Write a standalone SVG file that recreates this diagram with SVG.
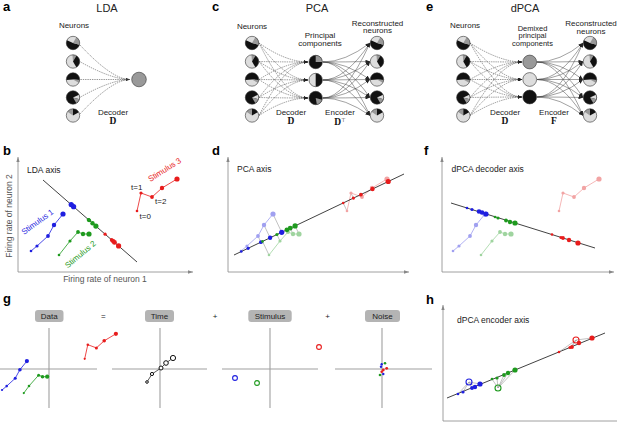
<svg xmlns="http://www.w3.org/2000/svg" xmlns:xlink="http://www.w3.org/1999/xlink" width="617" height="423" viewBox="0 0 617 423">
<style>
text{font-family:"Liberation Sans",Arial,sans-serif;fill:#222}
.lt{font-size:8px}
.mid{text-anchor:middle}
.ttl{font-size:11px;text-anchor:middle}
.pn{font-size:13px;font-weight:bold;fill:#000}
.mat{font-family:"Liberation Serif","Times New Roman",serif;font-weight:bold;font-size:9.5px;text-anchor:middle;fill:#111}
.dec{fill:none;stroke:#444;stroke-width:0.55;stroke-dasharray:1.4 0.9}
.enc{fill:none;stroke:#444;stroke-width:0.5}
.ol{fill:none;stroke:#333;stroke-width:0.6}
.k{fill:#111}.g{fill:#999}.l{fill:#ddd}
.ax{stroke:#888;stroke-width:0.8;fill:none}
.gax{stroke:#a0a0a0;stroke-width:1.1;fill:none}
.axis{stroke:#111;stroke-width:0.8;fill:none}
.sb{stroke:#1f1fe0;fill:none;stroke-width:0.8}.fb{fill:#1f1fe0}
.sg{stroke:#1e9a1e;fill:none;stroke-width:0.8}.fg{fill:#1e9a1e}
.sr{stroke:#e81c1c;fill:none;stroke-width:0.8}.fr{fill:#e81c1c}
.slb{stroke:#a0a0f0;fill:none;stroke-width:0.8}.flb{fill:#a0a0f0}
.slg{stroke:#9fd49f;fill:none;stroke-width:0.8}.flg{fill:#9fd49f}
.slr{stroke:#f2a4a4;fill:none;stroke-width:0.8}.flr{fill:#f2a4a4}
.pr{stroke:#999;stroke-width:0.6;fill:none}
.ob{fill:none;stroke:#1f1fe0;stroke-width:1.1}
.og{fill:none;stroke:#1e9a1e;stroke-width:1.1}
.or{fill:none;stroke:#e81c1c;stroke-width:1.1}
.ok{fill:#fff;stroke:#111;stroke-width:1}
.box{fill:#b4b4b4}
</style>
<defs>
<marker id="ah" viewBox="0 0 5 4" refX="5" refY="2" markerWidth="4.5" markerHeight="3.6" markerUnits="userSpaceOnUse" orient="auto"><path d="M0,0L5,2L0,4z" fill="#222"/></marker>
<marker id="axh" viewBox="0 0 6 4" refX="6" refY="2" markerWidth="5" markerHeight="3.5" markerUnits="userSpaceOnUse" orient="auto"><path d="M0,0L6,2L0,4z" fill="#888"/></marker>
<g id="n1"><circle r="6.7" class="l"/><path class="k" d="M0,0L6.47,1.73A6.7,6.7 0 1 1 -6.07,-2.83Z"/><path class="g" d="M0,0L3.35,-5.8A6.7,6.7 0 0 1 6.47,1.73Z"/><circle r="6.7" class="ol"/></g>
<g id="n2"><circle r="6.7" class="l"/><path class="g" d="M0,0L-0.58,-6.67A6.7,6.7 0 0 1 3.35,-5.8Z"/><path class="k" d="M0,0L3.35,-5.8A6.7,6.7 0 0 1 3.35,5.8Z"/><circle r="6.7" class="ol"/></g>
<g id="n3"><circle r="6.7" class="l"/><path class="k" d="M0,0L-6.67,0.58A6.7,6.7 0 1 1 6.67,0.58Z"/><path class="g" d="M0,0L6.67,0.58A6.7,6.7 0 0 1 5.8,3.35Z"/><circle r="6.7" class="ol"/></g>
<g id="n4"><circle r="6.7" class="k"/><path class="l" d="M0,0L6.07,-2.83A6.7,6.7 0 0 1 6.47,1.73Z"/><path class="g" d="M0,0L6.47,1.73A6.7,6.7 0 0 1 3.35,5.8Z"/><circle r="6.7" class="ol"/></g>
<g id="n5"><circle r="6.7" class="l"/><path class="g" d="M0,0L-5.49,-3.84A6.7,6.7 0 0 1 0,-6.7Z"/><path class="k" d="M0,0L0,-6.7A6.7,6.7 0 0 1 5.8,-3.35Z"/><circle r="6.7" class="ol"/></g>
<g id="pc1"><circle r="6.7" class="k"/><path class="g" d="M0,0L0,-6.7A6.7,6.7 0 0 1 6.7,0Z"/><circle r="6.7" class="ol"/></g>
<g id="pc2"><circle r="6.7" class="l"/><path class="k" d="M0,0L0,-6.7A6.7,6.7 0 0 1 0,6.7Z"/><circle r="6.7" class="ol"/></g>
<g id="pc3"><circle r="6.7" class="k"/><path class="g" d="M0,0L6.47,1.73A6.7,6.7 0 0 1 1.16,6.6Z"/><circle r="6.7" class="ol"/></g>
</defs>

<!-- Panel labels and titles -->
<text class="pn" x="3" y="11">a</text>
<text class="ttl" x="107" y="11.5">LDA</text>
<text class="pn" x="212" y="11">c</text>
<text class="ttl" x="317" y="11.5">PCA</text>
<text class="pn" x="426" y="11">e</text>
<text class="ttl" x="525" y="11.5">dPCA</text>

<!-- Connectors -->
<g id="connectors">
<g id="a-conn">
<path class="dec" marker-end="url(#ah)" d="M80,45Q112,79.5 130,79.5"/>
<path class="dec" d="M80.5,62Q112,79.5 130,79.5"/>
<path class="dec" d="M80.5,79.5L130,79.5"/>
<path class="dec" d="M80.5,97Q112,79.5 130,79.5"/>
<path class="dec" d="M80,114Q112,79.5 130,79.5"/>
</g>
<g id="c-dec">
<path class="dec" marker-end="url(#ah)" d="M259,43Q286,62 308,62"/>
<path class="dec" marker-end="url(#ah)" d="M259,61.5Q286,62 308,62"/>
<path class="dec" marker-end="url(#ah)" d="M259,79.5Q286,62 308,62"/>
<path class="dec" marker-end="url(#ah)" d="M259,97.5Q286,62 308,62"/>
<path class="dec" marker-end="url(#ah)" d="M259,115.5Q286,62 308,62"/>
<path class="dec" marker-end="url(#ah)" d="M259,43Q286,80 308,80"/>
<path class="dec" marker-end="url(#ah)" d="M259,61.5Q286,80 308,80"/>
<path class="dec" marker-end="url(#ah)" d="M259,79.5L308,80"/>
<path class="dec" marker-end="url(#ah)" d="M259,97.5Q286,80 308,80"/>
<path class="dec" marker-end="url(#ah)" d="M259,115.5Q286,80 308,80"/>
<path class="dec" marker-end="url(#ah)" d="M259,43Q286,98 308,98"/>
<path class="dec" marker-end="url(#ah)" d="M259,61.5Q286,98 308,98"/>
<path class="dec" marker-end="url(#ah)" d="M259,79.5Q286,98 308,98"/>
<path class="dec" marker-end="url(#ah)" d="M259,97.5Q286,98 308,98"/>
<path class="dec" marker-end="url(#ah)" d="M259,115.5Q286,98 308,98"/>
</g>
<g id="c-enc">
<path class="enc" marker-end="url(#ah)" d="M323,62Q345,62 370,43"/>
<path class="enc" marker-end="url(#ah)" d="M323,62Q345,62 370,61.5"/>
<path class="enc" marker-end="url(#ah)" d="M323,62Q345,62 370,79.5"/>
<path class="enc" marker-end="url(#ah)" d="M323,62Q345,62 370,97.5"/>
<path class="enc" marker-end="url(#ah)" d="M323,62Q345,62 370,115.5"/>
<path class="enc" marker-end="url(#ah)" d="M323,80Q345,80 370,43"/>
<path class="enc" marker-end="url(#ah)" d="M323,80Q345,80 370,61.5"/>
<path class="enc" marker-end="url(#ah)" d="M323,80L370,79.5"/>
<path class="enc" marker-end="url(#ah)" d="M323,80Q345,80 370,97.5"/>
<path class="enc" marker-end="url(#ah)" d="M323,80Q345,80 370,115.5"/>
<path class="enc" marker-end="url(#ah)" d="M323,98Q345,98 370,43"/>
<path class="enc" marker-end="url(#ah)" d="M323,98Q345,98 370,61.5"/>
<path class="enc" marker-end="url(#ah)" d="M323,98Q345,98 370,79.5"/>
<path class="enc" marker-end="url(#ah)" d="M323,98Q345,98 370,97.5"/>
<path class="enc" marker-end="url(#ah)" d="M323,98Q345,98 370,115.5"/>
</g>
<g id="e-dec">
<path class="dec" marker-end="url(#ah)" d="M470,43Q500,62 522,62"/>
<path class="dec" marker-end="url(#ah)" d="M470,61.5Q500,62 522,62"/>
<path class="dec" marker-end="url(#ah)" d="M470,79.5Q500,62 522,62"/>
<path class="dec" marker-end="url(#ah)" d="M470,97.5Q500,62 522,62"/>
<path class="dec" marker-end="url(#ah)" d="M470,115.5Q500,62 522,62"/>
<path class="dec" marker-end="url(#ah)" d="M470,43Q500,79.5 522,79.5"/>
<path class="dec" marker-end="url(#ah)" d="M470,61.5Q500,79.5 522,79.5"/>
<path class="dec" marker-end="url(#ah)" d="M470,79.5L522,79.5"/>
<path class="dec" marker-end="url(#ah)" d="M470,97.5Q500,79.5 522,79.5"/>
<path class="dec" marker-end="url(#ah)" d="M470,115.5Q500,79.5 522,79.5"/>
<path class="dec" marker-end="url(#ah)" d="M470,43Q500,97 522,97"/>
<path class="dec" marker-end="url(#ah)" d="M470,61.5Q500,97 522,97"/>
<path class="dec" marker-end="url(#ah)" d="M470,79.5Q500,97 522,97"/>
<path class="dec" marker-end="url(#ah)" d="M470,97.5Q500,97 522,97"/>
<path class="dec" marker-end="url(#ah)" d="M470,115.5Q500,97 522,97"/>
</g>
<g id="e-enc">
<path class="enc" marker-end="url(#ah)" d="M537,62Q560,62 583,43"/>
<path class="enc" marker-end="url(#ah)" d="M537,62Q560,62 583,61.5"/>
<path class="enc" marker-end="url(#ah)" d="M537,62Q560,62 583,79.5"/>
<path class="enc" marker-end="url(#ah)" d="M537,62Q560,62 583,97.5"/>
<path class="enc" marker-end="url(#ah)" d="M537,62Q560,62 583,115.5"/>
<path class="enc" marker-end="url(#ah)" d="M537,79.5Q560,79.5 583,43"/>
<path class="enc" marker-end="url(#ah)" d="M537,79.5Q560,79.5 583,61.5"/>
<path class="enc" marker-end="url(#ah)" d="M537,79.5L583,79.5"/>
<path class="enc" marker-end="url(#ah)" d="M537,79.5Q560,79.5 583,97.5"/>
<path class="enc" marker-end="url(#ah)" d="M537,79.5Q560,79.5 583,115.5"/>
<path class="enc" marker-end="url(#ah)" d="M537,97Q560,97 583,43"/>
<path class="enc" marker-end="url(#ah)" d="M537,97Q560,97 583,61.5"/>
<path class="enc" marker-end="url(#ah)" d="M537,97Q560,97 583,79.5"/>
<path class="enc" marker-end="url(#ah)" d="M537,97Q560,97 583,97.5"/>
<path class="enc" marker-end="url(#ah)" d="M537,97Q560,97 583,115.5"/>
</g>
</g>

<!-- Panel a nodes -->
<text class="lt mid" x="74" y="28">Neurons</text>
<g id="a-n1"><use xlink:href="#n1" x="73" y="43"/></g>
<g id="a-n2"><use xlink:href="#n2" x="73" y="61.5"/></g>
<g id="a-n3"><use xlink:href="#n3" x="73" y="79.5"/></g>
<g id="a-n4"><use xlink:href="#n4" x="73" y="97.5"/></g>
<g id="a-n5"><use xlink:href="#n5" x="73" y="115.5"/></g>
<g id="a-out"><circle cx="139" cy="79.5" r="7.3" class="g"/><circle cx="139" cy="79.5" r="7.3" class="ol"/></g>
<text class="lt mid" x="113" y="114.5">Decoder</text>
<text class="mat" x="113" y="124">D</text>

<!-- Panel c nodes -->
<text class="lt mid" x="252" y="28.5">Neurons</text>
<g id="c-n1"><use xlink:href="#n1" x="252" y="43"/></g>
<g id="c-n2"><use xlink:href="#n2" x="252" y="61.5"/></g>
<g id="c-n3"><use xlink:href="#n3" x="252" y="79.5"/></g>
<g id="c-n4"><use xlink:href="#n4" x="252" y="97.5"/></g>
<g id="c-n5"><use xlink:href="#n5" x="252" y="115.5"/></g>
<text class="lt mid" x="320" y="37.5">Principal</text>
<text class="lt mid" x="320" y="45.5">components</text>
<g id="c-pc1"><use xlink:href="#pc1" x="315.7" y="62"/></g>
<g id="c-pc2"><use xlink:href="#pc2" x="315.7" y="80"/></g>
<g id="c-pc3"><use xlink:href="#pc3" x="315.7" y="98"/></g>
<text class="lt mid" x="377.5" y="25.5">Reconstructed</text>
<text class="lt mid" x="377.5" y="33">neurons</text>
<g id="c-r1"><use xlink:href="#n1" x="377" y="43"/></g>
<g id="c-r2"><use xlink:href="#n2" x="377" y="61.5"/></g>
<g id="c-r3"><use xlink:href="#n3" x="377" y="79.5"/></g>
<g id="c-r4"><use xlink:href="#n4" x="377" y="97.5"/></g>
<g id="c-r5"><use xlink:href="#n5" x="377" y="115.5"/></g>
<text class="lt mid" x="291" y="114.5">Decoder</text>
<text class="mat" x="291" y="124">D</text>
<text class="lt mid" x="340" y="114.5">Encoder</text>
<text class="mat" x="340" y="124.5">D<tspan font-family="DejaVu Sans,sans-serif" font-weight="normal" font-size="5.5" dy="-3">⊤</tspan></text>

<!-- Panel e nodes -->
<text class="lt mid" x="465" y="27.5">Neurons</text>
<g id="e-n1"><use xlink:href="#n1" x="463.3" y="43"/></g>
<g id="e-n2"><use xlink:href="#n2" x="463.3" y="61.5"/></g>
<g id="e-n3"><use xlink:href="#n3" x="463.3" y="79.5"/></g>
<g id="e-n4"><use xlink:href="#n4" x="463.3" y="97.5"/></g>
<g id="e-n5"><use xlink:href="#n5" x="463.3" y="115.5"/></g>
<text class="lt mid" style="font-size:7.5px" x="532.5" y="30.5">Demixed</text>
<text class="lt mid" style="font-size:7.5px" x="532.5" y="38.2">principal</text>
<text class="lt mid" style="font-size:7.5px" x="532.5" y="46">components</text>
<g id="e-pc1"><circle cx="529.7" cy="62" r="6.9" class="g"/><circle cx="529.7" cy="62" r="6.9" class="ol"/></g>
<g id="e-pc2"><circle cx="529.7" cy="79.5" r="6.9" class="l"/><circle cx="529.7" cy="79.5" r="6.9" class="ol"/></g>
<g id="e-pc3"><circle cx="529.7" cy="97" r="6.9" class="k"/><circle cx="529.7" cy="97" r="6.9" class="ol"/></g>
<text class="lt mid" x="591" y="26">Reconstructed</text>
<text class="lt mid" x="591" y="34">neurons</text>
<g id="e-r1"><use xlink:href="#n1" x="590" y="43"/></g>
<g id="e-r2"><use xlink:href="#n2" x="590" y="61.5"/></g>
<g id="e-r3"><use xlink:href="#n3" x="590" y="79.5"/></g>
<g id="e-r4"><use xlink:href="#n4" x="590" y="97.5"/></g>
<g id="e-r5"><use xlink:href="#n5" x="590" y="115.5"/></g>
<text class="lt mid" x="505" y="114.5">Decoder</text>
<text class="mat" x="505" y="124">D</text>
<text class="lt mid" x="554" y="114.5">Encoder</text>
<text class="mat" x="554" y="124">F</text>

<!-- Panel b -->
<g id="panel-b">
<text class="pn" x="3" y="154.5">b</text>
<path class="ax" marker-end="url(#axh)" d="M18,272V157"/>
<path class="ax" marker-end="url(#axh)" d="M18,272H193"/>
<text class="lt mid" style="font-size:8.5px;fill:#555" x="105" y="282">Firing rate of neuron 1</text>
<text class="lt mid" style="font-size:8.5px;fill:#555" transform="translate(12,216) rotate(-90)">Firing rate of neuron 2</text>
<text class="lt" style="font-size:8.5px" x="27" y="172.5">LDA axis</text>
<path class="axis" d="M43,180L137,262"/>
<path class="sb" d="M31,251L37,246L48,236L54,225L63,214"/>
<path class="sg" d="M59,255L70,241L78,232L83,234L89,234"/>
<path class="sr" d="M137,211L141,193L152,197L162,188L177,179"/>
<g class="fb"><circle cx="31" cy="251" r="1.3"/><circle cx="37" cy="246" r="1.6"/><circle cx="48" cy="236" r="1.9"/><circle cx="54" cy="225" r="2.2"/><circle cx="63" cy="214" r="2.6"/>
<circle cx="71.4" cy="204.7" r="1.3"/><circle cx="72.3" cy="205.6" r="1.6"/><circle cx="73.6" cy="206.7" r="2.6"/><circle cx="71.5" cy="204.9" r="2.2"/><circle cx="71.2" cy="204.6" r="2.6"/></g>
<g class="fg"><circle cx="59" cy="255" r="1.3"/><circle cx="70" cy="241" r="1.6"/><circle cx="78" cy="232" r="1.9"/><circle cx="83" cy="234" r="2.2"/><circle cx="89" cy="234" r="2.6"/>
<circle cx="89.2" cy="220.3" r="1.9"/><circle cx="88.6" cy="219.7" r="1.6"/><circle cx="88.6" cy="219.8" r="1.9"/><circle cx="92.5" cy="223.2" r="2.2"/><circle cx="95.9" cy="226.1" r="2.6"/></g>
<g class="fr"><circle cx="137" cy="211" r="1.3"/><circle cx="141" cy="193" r="1.6"/><circle cx="152" cy="197" r="1.9"/><circle cx="162" cy="188" r="2.2"/><circle cx="177" cy="179" r="2.6"/>
<circle cx="111.7" cy="240" r="1.9"/><circle cx="105.1" cy="234.2" r="1.6"/><circle cx="113.3" cy="241.3" r="2.2"/><circle cx="114.5" cy="242.4" r="2.4"/><circle cx="118.6" cy="245.9" r="2.6"/></g>
<text class="lt mid" style="fill:#1f1fe0" transform="translate(39,224) rotate(-36)">Stimulus 1</text>
<text class="lt mid" style="fill:#1e9a1e" transform="translate(82,256.5) rotate(-40)">Stimulus 2</text>
<text class="lt mid" style="fill:#e81c1c" transform="translate(166,172) rotate(-32)">Stimulus 3</text>
<text class="lt" x="131" y="190">t=1</text>
<text class="lt" x="155" y="204">t=2</text>
<text class="lt" x="139.5" y="218.5">t=0</text>
</g>

<!-- Panel d -->
<g id="panel-d">
<text class="pn" x="212" y="155">d</text>
<path class="ax" marker-end="url(#axh)" d="M228,272V157"/>
<path class="ax" marker-end="url(#axh)" d="M228,272H409"/>
<text class="lt" style="font-size:8.5px" x="237" y="172">PCA axis</text>
<path class="slb" d="M241,251L247,246L258,236L264,225L273,214"/>
<path class="slg" d="M269,255L280,241L288,232L293,234L299,234"/>
<path class="slr" d="M347,211L351,193L362,197L372,188L387,179"/>
<path class="pr" d="M241,251L241.3,251.5M247,246L248.1,248.3M258,236L260.9,242.2M264,225L270.1,237.8M273,214L281.7,232.3M269,255L262.5,241.4M280,241L276.9,234.5M288,232L286.9,229.8M293,234L290.2,228.2M299,234L295.1,225.9M347,211L343.2,203M351,193L353.4,198.1M362,197L360.9,194.6M372,188L372.5,189M387,179L388.2,181.5"/>
<g class="flb"><circle cx="241" cy="251" r="1.3"/><circle cx="247" cy="246" r="1.6"/><circle cx="258" cy="236" r="1.9"/><circle cx="264" cy="225" r="2.2"/><circle cx="273" cy="214" r="2.6"/></g>
<g class="flg"><circle cx="269" cy="255" r="1.3"/><circle cx="280" cy="241" r="1.6"/><circle cx="288" cy="232" r="1.9"/><circle cx="293" cy="234" r="2.2"/><circle cx="299" cy="234" r="2.6"/></g>
<g class="flr"><circle cx="347" cy="211" r="1.3"/><circle cx="351" cy="193" r="1.6"/><circle cx="362" cy="197" r="1.9"/><circle cx="372" cy="188" r="2.2"/><circle cx="387" cy="179" r="2.6"/></g>
<path class="axis" d="M234,255L404,174"/>
<g class="fb"><circle cx="241.3" cy="251.5" r="1.3"/><circle cx="248.1" cy="248.3" r="1.6"/><circle cx="260.9" cy="242.2" r="1.9"/><circle cx="270.1" cy="237.8" r="2.2"/><circle cx="281.7" cy="232.3" r="2.6"/></g>
<g class="fg"><circle cx="262.5" cy="241.4" r="1.3"/><circle cx="276.9" cy="234.5" r="1.6"/><circle cx="286.9" cy="229.8" r="2.4"/><circle cx="290.2" cy="228.2" r="2.4"/><circle cx="295.1" cy="225.9" r="2.6"/></g>
<g class="fr"><circle cx="343.2" cy="203" r="1.3"/><circle cx="353.4" cy="198.1" r="1.6"/><circle cx="360.9" cy="194.6" r="1.9"/><circle cx="372.5" cy="189" r="2.2"/><circle cx="388.2" cy="181.5" r="2.6"/></g>
</g>

<!-- Panel f -->
<g id="panel-f">
<text class="pn" x="424" y="155">f</text>
<path class="ax" marker-end="url(#axh)" d="M442,272V157"/>
<path class="ax" marker-end="url(#axh)" d="M442,272H614"/>
<text class="lt" style="font-size:8.5px" x="451.5" y="172">dPCA decoder axis</text>
<path class="slb" d="M453,251L459,246L470,236L476,225L485,214"/>
<path class="slg" d="M481,255L492,241L500,232L505,234L511,234"/>
<path class="slr" d="M559,211L563,193L574,197L584,188L599,179"/>
<g class="flb"><circle cx="453" cy="251" r="1.3"/><circle cx="459" cy="246" r="1.6"/><circle cx="470" cy="236" r="1.9"/><circle cx="476" cy="225" r="2.2"/><circle cx="485" cy="214" r="2.6"/></g>
<g class="flg"><circle cx="481" cy="255" r="1.3"/><circle cx="492" cy="241" r="1.6"/><circle cx="500" cy="232" r="1.9"/><circle cx="505" cy="234" r="2.2"/><circle cx="511" cy="234" r="2.6"/></g>
<g class="flr"><circle cx="559" cy="211" r="1.3"/><circle cx="563" cy="193" r="1.6"/><circle cx="574" cy="197" r="1.9"/><circle cx="584" cy="188" r="2.2"/><circle cx="599" cy="179" r="2.6"/></g>
<path class="axis" d="M451,203L595,248"/>
<g class="fb"><circle cx="467" cy="208" r="1.3"/><circle cx="472" cy="209.5" r="1.6"/><circle cx="479" cy="211.5" r="2.3"/><circle cx="482" cy="212.5" r="2.3"/><circle cx="486" cy="214" r="2.6"/></g>
<g class="fg"><circle cx="495" cy="217" r="1.3"/><circle cx="498" cy="218" r="1.6"/><circle cx="506" cy="220.5" r="1.9"/><circle cx="510" cy="222" r="2.2"/><circle cx="515" cy="223" r="2.6"/></g>
<g class="fr"><circle cx="552" cy="234.5" r="1.3"/><circle cx="561" cy="237.5" r="1.6"/><circle cx="563" cy="238" r="1.9"/><circle cx="569" cy="240" r="2.2"/><circle cx="578" cy="243" r="2.6"/></g>
</g>

<!-- Panel g -->
<g id="panel-g">
<text class="pn" x="3" y="303">g</text>
<g id="g-data"><rect class="box" x="35" y="310" width="28.5" height="12" rx="3"/><text class="lt mid" x="49.2" y="319">Data</text></g>
<text class="lt mid" x="103.3" y="319">=</text>
<g id="g-time"><rect class="box" x="145" y="310" width="29" height="12" rx="3"/><text class="lt mid" x="159.5" y="319">Time</text></g>
<text class="lt mid" x="215" y="319">+</text>
<g id="g-stim"><rect class="box" x="248.3" y="310" width="43.4" height="12" rx="3"/><text class="lt mid" x="270" y="319">Stimulus</text></g>
<text class="lt mid" x="327.5" y="319">+</text>
<g id="g-noise"><rect class="box" x="365" y="310" width="35" height="12" rx="3"/><text class="lt mid" x="382.5" y="319">Noise</text></g>
<path class="gax" d="M49,328V408M0,369H97"/>
<path class="gax" d="M160,328V408M112,369H207"/>
<path class="gax" d="M270,328V408M222,369H318"/>
<path class="gax" d="M382,328V408M335,369H432"/>
<path class="sb" stroke-width="0.7" d="M2,390L6.7,386.1L15.2,378.3L19.9,369.7L26.9,361.1"/>
<path class="sg" stroke-width="0.7" d="M23.8,393.1L29,386L38.6,375.2L42.5,376.7L47.2,376.7"/>
<path class="sr" stroke-width="0.7" d="M84.7,358.8L87.8,344.7L96.4,347.9L104.2,340.8L115.9,333.8"/>
<g class="fb"><circle cx="2" cy="390" r="1.1"/><circle cx="6.7" cy="386.1" r="1.3"/><circle cx="15.2" cy="378.3" r="1.5"/><circle cx="19.9" cy="369.7" r="1.8"/><circle cx="26.9" cy="361.1" r="2.1"/></g>
<g class="fg"><circle cx="23.8" cy="393.1" r="1.1"/><circle cx="29" cy="386" r="1.3"/><circle cx="38.6" cy="375.2" r="1.5"/><circle cx="42.5" cy="376.7" r="1.8"/><circle cx="47.2" cy="376.7" r="2.1"/></g>
<g class="fr"><circle cx="84.7" cy="358.8" r="1.1"/><circle cx="87.8" cy="344.7" r="1.3"/><circle cx="96.4" cy="347.9" r="1.5"/><circle cx="104.2" cy="340.8" r="1.8"/><circle cx="115.9" cy="333.8" r="2.1"/></g>
<path stroke="#111" stroke-width="0.7" fill="none" d="M147,382L152,374L161,368L166,363L173,358"/>
<circle class="ok" cx="147" cy="382" r="1.3"/><circle class="ok" cx="152" cy="374" r="1.6"/><circle class="ok" cx="161" cy="368" r="2"/><circle class="ok" cx="166" cy="363" r="2.3"/><circle class="ok" cx="173" cy="358" r="2.6"/>
<circle class="ob" cx="235" cy="378" r="2.4"/>
<circle class="og" cx="257" cy="383" r="2.4"/>
<circle class="or" cx="319" cy="347" r="2.4"/>
<g class="fb"><circle cx="381.7" cy="364.3" r="1.2"/><circle cx="381" cy="366.7" r="1.2"/><circle cx="383.3" cy="374" r="1.2"/></g>
<g class="fg"><circle cx="385" cy="363.3" r="1.3"/><circle cx="380" cy="375" r="1.3"/></g>
<g class="fr"><circle cx="386.7" cy="368.3" r="1.4"/><circle cx="383.3" cy="370" r="1.4"/><circle cx="381.7" cy="371.7" r="1.3"/></g>
</g>

<!-- Panel h -->
<g id="panel-h">
<text class="pn" x="426" y="304">h</text>
<path class="ax" marker-end="url(#axh)" d="M443,421V305"/>
<path class="ax" d="M443,421H617"/>
<text class="lt" style="font-size:8.5px" x="457" y="323">dPCA encoder axis</text>
<path class="axis" d="M447,398L605,333"/>
<path class="pr" d="M469,382L458,394M469,382L463,392M469,382L472,388M469,382L475,387M469,382L480,384M498,388L492,379M498,388L497,378M498,388L504,375M498,388L508,373M498,388L515,370M576,340L559,352M576,340L570,347.5M576,340L572,347M576,340L579,343M576,340L592,338"/>
<g class="fb"><circle cx="458" cy="394" r="1.3"/><circle cx="463" cy="392" r="1.6"/><circle cx="472" cy="388" r="1.9"/><circle cx="475" cy="387" r="2.2"/><circle cx="480" cy="384" r="2.6"/></g>
<g class="fg"><circle cx="492" cy="379" r="1.3"/><circle cx="497" cy="378" r="1.6"/><circle cx="504" cy="375" r="1.9"/><circle cx="508" cy="373" r="2.2"/><circle cx="515" cy="370" r="2.6"/></g>
<g class="fr"><circle cx="559" cy="352" r="1.3"/><circle cx="570" cy="347.5" r="1.6"/><circle cx="572" cy="347" r="1.9"/><circle cx="579" cy="343" r="2.2"/><circle cx="592" cy="338" r="2.6"/></g>
<circle class="ob" cx="469" cy="382" r="3"/>
<circle class="og" cx="498" cy="388" r="3"/>
<circle class="or" cx="576" cy="340" r="3"/>
</g>
</svg>
